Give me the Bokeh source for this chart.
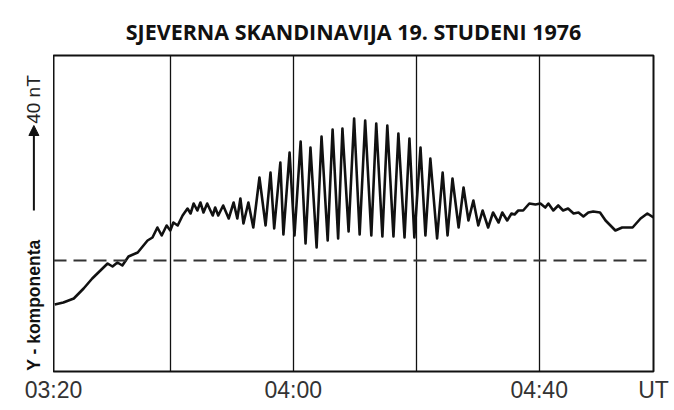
import math
from bokeh.plotting import figure
from bokeh.layouts import row, column
from bokeh.models import Range1d, FixedTicker, Span, Label, Arrow, NormalHead
from bokeh.embed import file_html
from bokeh.resources import INLINE

# time in minutes after 03:20 UT
t_min = [1.2, 2.6, 4.3, 5.9, 7.3, 8.3, 9.8, 10.6, 11.4, 12.2, 13.2, 14.7, 16.3, 17.1, 17.9, 18.6,
         19.4, 20.0, 20.5, 21.2, 22.0, 22.8, 23.3, 23.8, 24.4, 24.9, 25.4, 26.0, 26.9, 27.3, 27.8,
         28.6, 29.5, 30.3, 30.9, 31.4, 31.9, 32.7, 33.5, 34.5, 35.5, 36.3, 36.9, 37.9, 38.4, 39.4,
         40.2, 41.2, 42.0, 42.8, 43.8, 44.6, 45.6, 46.4, 47.3, 48.0, 49.0, 49.9, 50.8, 51.7, 52.7,
         53.5, 54.5, 55.3, 56.3, 57.1, 58.1, 58.9, 59.7, 60.7, 61.5, 62.3, 63.4, 64.3, 65.1, 65.9,
         66.9, 67.7, 68.5, 69.3, 70.1, 70.8, 71.7, 72.5, 73.4, 74.0, 74.8, 75.5, 76.0, 76.6, 77.4,
         78.4, 79.4, 80.2, 81.0, 81.5, 82.3, 83.1, 83.9, 84.7, 85.6, 86.4, 87.2, 88.0, 88.8, 89.9,
         90.8, 91.6, 92.4, 93.5, 95.2, 96.5, 97.6, 98.6]
# Y component (nT) relative to the dashed reference level
y_nT = [-22, -21, -19, -14, -9, -6, -1.5, -3, -1, -2.5, 2, 4, 10, 11.5, 16.5, 12.5,
        17.5, 15, 19, 17.5, 22.5, 26, 23.5, 28.5, 25, 29, 24, 28.5, 22.5, 26.5, 22.5,
        27.5, 21, 29, 21, 31, 18.5, 29, 16.5, 41.5, 17.5, 44, 16, 49, 13, 54,
        12.5, 59.5, 8.5, 56.5, 6.5, 62, 10, 65.5, 11, 66, 14.5, 71, 13, 70, 12.5,
        68.5, 12, 67.5, 12, 63.5, 11.5, 61, 11.5, 56.5, 12.5, 51, 11, 44, 12.5, 41,
        16.5, 36.5, 20, 30, 17.5, 25, 16.5, 24, 19, 24, 20, 23.5, 23, 25, 25,
        28.5, 28, 28.5, 26.5, 28.5, 25, 27.5, 25, 26, 23.5, 24, 22, 24, 24.5, 24,
        20, 17.5, 15, 16.5, 16.5, 21, 23.5, 21.5]

x_start, x_end = 1, 98.6
tick_pos = [1, 40, 80, 98.6]
tick_labels = ["03:20", "04:00", "04:40", "UT"]
grid_pos = [20, 40, 60, 80]
reference_level = 0
scale_bar = [25, 67.5]  # arrow: 40 nT

H = 373
TOP = 55
BOTTOM = 2
x_range = Range1d(x_start, x_end)
y_range = Range1d(-55.5, 102.5)

# narrow left panel carrying the y-axis caption and the 40 nT scale arrow
side = figure(width=53, height=H, x_range=Range1d(0, 1), y_range=y_range,
              output_backend="svg", toolbar_location=None, x_axis_location=None,
              y_axis_location=None, min_border_left=0, min_border_right=0,
              min_border_top=TOP, min_border_bottom=BOTTOM)
side.outline_line_color = None
side.xgrid.grid_line_color = None
side.ygrid.grid_line_color = None
lx = 0.63
side.add_layout(Label(x=lx, y=-22.3, text="Y - komponenta", angle=math.pi / 2, text_align="center",
                      text_baseline="middle", text_font="Liberation Sans", text_font_style="bold",
                      text_font_size="17.5px", text_color="#111111"))
side.add_layout(Label(x=lx, y=80.5, text="40 nT", angle=math.pi / 2, text_align="center",
                      text_baseline="middle", text_font="Liberation Sans",
                      text_font_size="19px", text_color="#222222"))
side.add_layout(Arrow(x_start=lx, y_start=scale_bar[0], x_end=lx, y_end=scale_bar[1],
                      line_width=2, line_color="#111111",
                      end=NormalHead(size=10, fill_color="#111111", line_color="#111111")))

p = figure(width=618, height=H, x_range=x_range, y_range=y_range,
           output_backend="svg", toolbar_location=None, y_axis_location=None,
           x_axis_location=None,
           min_border_left=0, min_border_right=18, min_border_top=TOP, min_border_bottom=BOTTOM)
p.title.text = "SJEVERNA SKANDINAVIJA 19. STUDENI 1976"
p.title.text_font = "Open Sans"
p.title.text_font_style = "bold"
p.title.text_font_size = "21.5px"
p.title.align = "center"
p.title.text_color = "#111111"
p.title.standoff = 20

p.outline_line_color = "#111111"
p.outline_line_width = 2
p.outline_line_alpha = 1

p.xgrid.ticker = FixedTicker(ticks=grid_pos)
p.xgrid.grid_line_color = "#111111"
p.xgrid.grid_line_width = 1.3
p.xgrid.grid_line_alpha = 1
p.ygrid.grid_line_color = None

p.add_layout(Span(location=reference_level, dimension="width", line_color="#333333",
                  line_width=2, line_dash="13 7"))

p.line(t_min, y_nT, line_color="#111111", line_width=2.6, line_join="round")

# time axis, drawn in its own strip so the end labels are not pushed inward
ax = figure(width=671, height=34, x_range=x_range, y_range=Range1d(0, 1),
            output_backend="svg", toolbar_location=None, y_axis_location=None,
            min_border_left=53, min_border_right=18, min_border_top=0, min_border_bottom=31)
ax.outline_line_color = None
ax.xgrid.grid_line_color = None
ax.ygrid.grid_line_color = None
ax.xaxis.ticker = FixedTicker(ticks=tick_pos)
ax.xaxis.major_label_overrides = {k: v for k, v in zip(tick_pos, tick_labels)}
ax.xaxis.axis_line_color = None
ax.xaxis.major_tick_line_color = None
ax.xaxis.minor_tick_line_color = None
ax.xaxis.major_tick_out = 0
ax.xaxis.major_tick_in = 0
ax.xaxis.major_label_text_font = "Liberation Sans"
ax.xaxis.major_label_text_font_size = "23px"
ax.xaxis.major_label_text_color = "#333333"
ax.xaxis.major_label_standoff = 0

layout = column(row(side, p, spacing=0), ax, spacing=0)
open("out.html", "w").write(file_html(layout, INLINE))
